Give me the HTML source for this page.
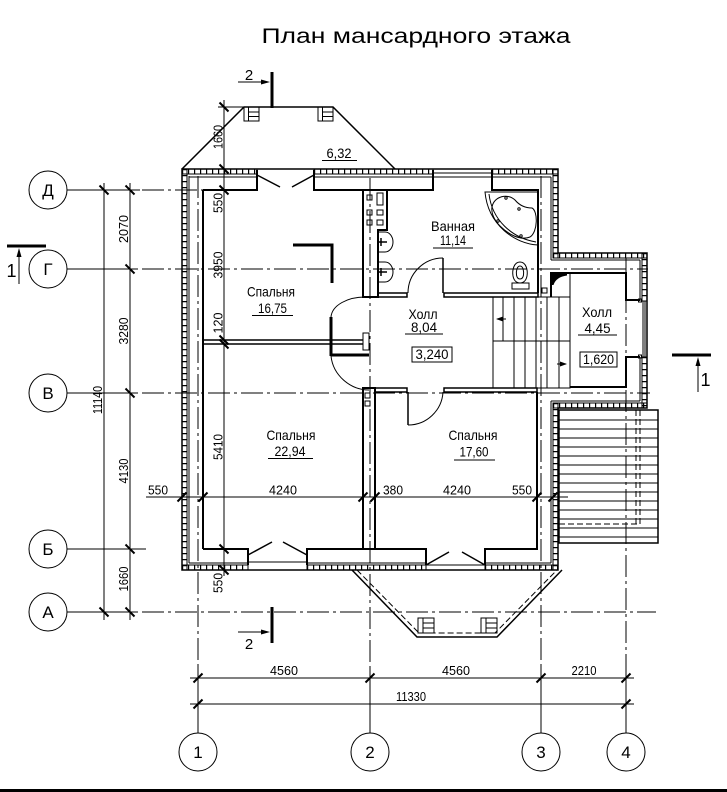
<!DOCTYPE html>
<html><head><meta charset="utf-8"><style>
html,body{margin:0;padding:0;background:#fff}
svg{display:block}
text{font-family:"Liberation Sans","DejaVu Sans",sans-serif;fill:#000}
.t{stroke:#000;stroke-width:1;fill:none}
.m{stroke:#000;stroke-width:1.5;fill:none}
.w{stroke:#000;stroke-width:2;fill:none}
.k{stroke:#000;stroke-width:3;fill:none}
.ax{stroke:#000;stroke-width:1;fill:none;stroke-dasharray:22 4 3 4}
.ds{stroke:#000;stroke-width:1;fill:none;stroke-dasharray:6 3}
.tk{stroke:#000;stroke-width:2}
.hv{stroke:#000;stroke-width:5;stroke-dasharray:1.2 4.8;fill:none}
</style></head><body>
<svg width="727" height="792" viewBox="0 0 727 792" xmlns="http://www.w3.org/2000/svg">
<rect width="727" height="792" fill="#fff"/>

<!-- Title -->
<text x="416" y="43" font-size="21" text-anchor="middle" textLength="309" lengthAdjust="spacingAndGlyphs">План мансардного этажа</text>

<!-- Axis circles -->
<g class="t">
<circle cx="48" cy="190" r="19"/><circle cx="48" cy="269" r="19"/><circle cx="48" cy="393" r="19"/><circle cx="48" cy="549" r="19"/><circle cx="48" cy="612" r="19"/>
<circle cx="198" cy="752" r="19"/><circle cx="370" cy="752" r="19"/><circle cx="541" cy="752" r="19"/><circle cx="626" cy="752" r="19"/>
</g>
<g font-size="17" text-anchor="middle">
<text x="48" y="196">Д</text><text x="48" y="275">Г</text><text x="48" y="399">В</text><text x="48" y="555">Б</text><text x="48" y="618">А</text>
<text x="198" y="758">1</text><text x="370" y="758">2</text><text x="541" y="758">3</text><text x="626" y="758">4</text>
</g>

<!-- Horizontal axis lines -->
<g class="t">
<line x1="67" y1="190" x2="140" y2="190"/>
<line x1="67" y1="269" x2="138" y2="269"/>
<line x1="67" y1="393" x2="138" y2="393"/>
<line x1="67" y1="549" x2="146" y2="549"/>
<line x1="67" y1="612" x2="138" y2="612"/>
</g>
<g class="ax">
<line x1="142" y1="190" x2="203" y2="190"/>
<line x1="142" y1="269" x2="648" y2="269"/>
<line x1="142" y1="393" x2="650" y2="393"/>
<line x1="142" y1="612" x2="656" y2="612"/>
</g>

<!-- Vertical axis lines -->
<g class="ax">
<line x1="198" y1="176" x2="198" y2="666"/>
<line x1="370" y1="178" x2="370" y2="666"/>
<line x1="541" y1="176" x2="541" y2="666"/>
<line x1="626" y1="258" x2="626" y2="666"/>
</g>
<g class="t">
<line x1="198" y1="666" x2="198" y2="733"/>
<line x1="370" y1="666" x2="370" y2="733"/>
<line x1="541" y1="666" x2="541" y2="733"/>
<line x1="626" y1="666" x2="626" y2="733"/>
</g>

<!-- Dimension lines -->
<g class="t">
<line x1="104" y1="183" x2="104" y2="620"/>
<line x1="130" y1="183" x2="130" y2="620"/>
<line x1="224" y1="100" x2="224" y2="576"/>
<line x1="218" y1="107" x2="244" y2="107"/>
<line x1="146" y1="497" x2="568" y2="497"/>
<line x1="190" y1="678" x2="634" y2="678"/>
<line x1="190" y1="704" x2="634" y2="704"/>
</g>
<g class="tk">
<!-- vertical dims: "\" ticks -->
<line x1="99.5" y1="185.5" x2="108.5" y2="194.5"/>
<line x1="99.5" y1="607.5" x2="108.5" y2="616.5"/>
<line x1="125.5" y1="185.5" x2="134.5" y2="194.5"/>
<line x1="125.5" y1="264.5" x2="134.5" y2="273.5"/>
<line x1="125.5" y1="388.5" x2="134.5" y2="397.5"/>
<line x1="125.5" y1="544.5" x2="134.5" y2="553.5"/>
<line x1="125.5" y1="607.5" x2="134.5" y2="616.5"/>
<line x1="219.5" y1="102.5" x2="228.5" y2="111.5"/>
<line x1="219.5" y1="164.5" x2="228.5" y2="173.5"/>
<line x1="219.5" y1="185.5" x2="228.5" y2="194.5"/>
<line x1="219.5" y1="335.5" x2="228.5" y2="344.5"/>
<line x1="219.5" y1="339.5" x2="228.5" y2="348.5"/>
<line x1="219.5" y1="544.5" x2="228.5" y2="553.5"/>
<line x1="219.5" y1="565.5" x2="228.5" y2="574.5"/>
<!-- horizontal dims: "/" ticks -->
<line x1="177.5" y1="501.5" x2="186.5" y2="492.5"/>
<line x1="198.5" y1="501.5" x2="207.5" y2="492.5"/>
<line x1="358.5" y1="501.5" x2="367.5" y2="492.5"/>
<line x1="370.5" y1="501.5" x2="379.5" y2="492.5"/>
<line x1="532.5" y1="501.5" x2="541.5" y2="492.5"/>
<line x1="548.5" y1="501.5" x2="557.5" y2="492.5"/>
<line x1="193.5" y1="682.5" x2="202.5" y2="673.5"/>
<line x1="365.5" y1="682.5" x2="374.5" y2="673.5"/>
<line x1="536.5" y1="682.5" x2="545.5" y2="673.5"/>
<line x1="621.5" y1="682.5" x2="630.5" y2="673.5"/>
<line x1="193.5" y1="708.5" x2="202.5" y2="699.5"/>
<line x1="621.5" y1="708.5" x2="630.5" y2="699.5"/>
</g>

<!-- Dimension texts -->
<g font-size="13" text-anchor="middle">
<text transform="translate(128,229) rotate(-90)" textLength="28" lengthAdjust="spacingAndGlyphs">2070</text>
<text transform="translate(128,331) rotate(-90)" textLength="27" lengthAdjust="spacingAndGlyphs">3280</text>
<text transform="translate(128,471) rotate(-90)" textLength="25" lengthAdjust="spacingAndGlyphs">4130</text>
<text transform="translate(128,579) rotate(-90)" textLength="25" lengthAdjust="spacingAndGlyphs">1660</text>
<text transform="translate(102,400) rotate(-90)" textLength="28" lengthAdjust="spacingAndGlyphs">11140</text>
<text transform="translate(222.5,137) rotate(-90)" textLength="24" lengthAdjust="spacingAndGlyphs">1660</text>
<text transform="translate(222.5,203) rotate(-90)" textLength="20" lengthAdjust="spacingAndGlyphs">550</text>
<text transform="translate(222.5,265) rotate(-90)" textLength="27" lengthAdjust="spacingAndGlyphs">3950</text>
<text transform="translate(222.5,323) rotate(-90)" textLength="21" lengthAdjust="spacingAndGlyphs">120</text>
<text transform="translate(222.5,447) rotate(-90)" textLength="26" lengthAdjust="spacingAndGlyphs">5410</text>
<text transform="translate(222.5,583) rotate(-90)" textLength="20" lengthAdjust="spacingAndGlyphs">550</text>
<text x="158" y="494.5" textLength="20" lengthAdjust="spacingAndGlyphs">550</text>
<text x="283" y="494.5" textLength="28" lengthAdjust="spacingAndGlyphs">4240</text>
<text x="393" y="494.5" textLength="20" lengthAdjust="spacingAndGlyphs">380</text>
<text x="457" y="494.5" textLength="28" lengthAdjust="spacingAndGlyphs">4240</text>
<text x="522" y="494.5" textLength="20" lengthAdjust="spacingAndGlyphs">550</text>
<text x="284" y="675" textLength="28" lengthAdjust="spacingAndGlyphs">4560</text>
<text x="456" y="675" textLength="28" lengthAdjust="spacingAndGlyphs">4560</text>
<text x="584" y="675" textLength="25" lengthAdjust="spacingAndGlyphs">2210</text>
<text x="411" y="701" textLength="30" lengthAdjust="spacingAndGlyphs">11330</text>
</g>

<!-- Top bay -->
<path class="m" d="M182,169 L244,107 L333,107 L395,169"/>
<g class="t">
<rect x="244" y="107" width="15" height="14"/><line x1="248.5" y1="107" x2="248.5" y2="121"/><line x1="248.5" y1="112" x2="259" y2="112"/><line x1="248.5" y1="116.5" x2="259" y2="116.5"/>
<rect x="318" y="107" width="15" height="14"/><line x1="322.5" y1="107" x2="322.5" y2="121"/><line x1="322.5" y1="112" x2="333" y2="112"/><line x1="322.5" y1="116.5" x2="333" y2="116.5"/>
</g>

<!-- Hatch strips -->
<g>
<rect class="t" x="182" y="169" width="75" height="5"/><line class="hv" x1="182" y1="171.5" x2="257" y2="171.5"/>
<rect class="t" x="314" y="169" width="119" height="5"/><line class="hv" x1="314" y1="171.5" x2="433" y2="171.5"/>
<rect class="t" x="492" y="169" width="66" height="5"/><line class="hv" x1="492" y1="171.5" x2="558" y2="171.5"/>
<rect class="t" x="182" y="169" width="5" height="401"/><line class="hv" x1="184.5" y1="169" x2="184.5" y2="570"/>
<rect class="t" x="182" y="565" width="66" height="5"/><line class="hv" x1="182" y1="567.5" x2="248" y2="567.5"/>
<rect class="t" x="307" y="565" width="119" height="5"/><line class="hv" x1="307" y1="567.5" x2="426" y2="567.5"/>
<rect class="t" x="485" y="565" width="73" height="5"/><line class="hv" x1="485" y1="567.5" x2="558" y2="567.5"/>
<rect class="t" x="553" y="169" width="5" height="89"/><line class="hv" x1="555.5" y1="169" x2="555.5" y2="258"/>
<rect class="t" x="553" y="253" width="94" height="5"/><line class="hv" x1="553" y1="255.5" x2="647" y2="255.5"/>
<rect class="t" x="642" y="253" width="5" height="48"/><line class="hv" x1="644.5" y1="253" x2="644.5" y2="301"/>
<rect class="t" x="642" y="357" width="5" height="51"/><line class="hv" x1="644.5" y1="357" x2="644.5" y2="408"/>
<rect class="t" x="553" y="403" width="94" height="5"/><line class="hv" x1="553" y1="405.5" x2="647" y2="405.5"/>
<rect class="t" x="553" y="403" width="5" height="167"/><line class="hv" x1="555.5" y1="403" x2="555.5" y2="570"/>
</g>

<!-- Outer outline -->
<path class="m" d="M182,169 H558 V253 H647 V408 H558 V570 H182 Z"/>

<!-- inner thin lines -->
<g class="t">
<line x1="189" y1="176" x2="189" y2="563"/>
<line x1="189" y1="177" x2="257" y2="177"/>
<line x1="314" y1="177" x2="433" y2="177"/>
<line x1="492" y1="177" x2="551" y2="177"/>
<line x1="433" y1="173" x2="492" y2="173"/>
<line x1="433" y1="177" x2="492" y2="177"/>
<line x1="551" y1="177" x2="551" y2="260"/>
<line x1="551" y1="260" x2="640" y2="260"/>
<line x1="640" y1="260" x2="640" y2="301"/>
<line x1="640" y1="357" x2="640" y2="401"/>
<line x1="551" y1="401" x2="640" y2="401"/>
<line x1="551" y1="401" x2="551" y2="563"/>
<line x1="189" y1="563" x2="248" y2="563"/>
<line x1="248" y1="562" x2="307" y2="562"/>
<line x1="307" y1="563" x2="426" y2="563"/>
<line x1="426" y1="565" x2="485" y2="565"/>
<line x1="485" y1="563" x2="551" y2="563"/>
<line x1="643" y1="301" x2="643" y2="357"/>
<line x1="645" y1="301" x2="645" y2="357"/>
<rect x="638.5" y="299" width="3" height="3"/>
<rect x="638.5" y="355" width="3" height="3"/>
</g>

<!-- Room faces -->
<g class="w">
<line x1="203" y1="190" x2="203" y2="549"/>
<path d="M203,190 H257 V170"/>
<path d="M314,170 V190 H433 V170"/>
<path d="M492,170 V190 H538 V293"/>
<path d="M203,549 H248 V565"/>
<path d="M307,565 V549 H426 V565"/>
<path d="M485,565 V549 H537 V392"/>
<path d="M551,297 V273 H626 V300 H640"/>
<path d="M640,357 H626 V387 H570"/>
<path d="M363,190 V297 H378 V230 H387 V190"/>
<path d="M363,549 V388 H375 V549"/>
</g>
<g class="m">
<rect x="378" y="293" width="29" height="4"/>
<rect x="444" y="293" width="94" height="4"/>
<rect x="375" y="388" width="32" height="4"/>
<rect x="444" y="388" width="93" height="4"/>
<line x1="203" y1="340" x2="363" y2="340"/>
<line x1="203" y1="344" x2="363" y2="344"/>
</g>
<g class="t">
<rect x="363" y="333" width="6" height="17"/>
<line x1="570" y1="273" x2="570" y2="388"/>
<!-- vents -->
<rect x="367" y="195" width="5" height="5"/><rect x="377" y="193" width="6" height="12"/>
<rect x="367" y="210" width="5" height="5"/><rect x="377" y="210" width="6" height="5"/>
<rect x="367" y="220" width="5" height="5"/><rect x="377" y="220" width="6" height="5"/>
<rect x="365" y="393" width="5" height="5"/><rect x="365" y="401" width="5" height="5"/>
<!-- sinks -->
<path d="M378,232 H385 A8,10 0 0 1 385,252 H378"/>
<path d="M378,262 H385 A8,10 0 0 1 385,282 H378"/>
</g>
<g class="m">
<line x1="379" y1="242" x2="387" y2="242"/><line x1="381" y1="238" x2="381" y2="246"/>
<line x1="379" y1="272" x2="387" y2="272"/><line x1="381" y1="268" x2="381" y2="276"/>
</g>

<!-- Doors -->
<g class="m">
<line x1="257" y1="175" x2="280" y2="187"/>
<line x1="292" y1="187" x2="314" y2="175"/>
<line x1="248" y1="555" x2="272" y2="542"/>
<line x1="283" y1="542" x2="307" y2="555"/>
<line x1="426" y1="565" x2="449" y2="552"/>
<line x1="462" y1="552" x2="485" y2="565"/>
<line x1="443" y1="258" x2="443" y2="293"/>
<line x1="408" y1="392" x2="408" y2="425"/>
</g>
<g class="t">
<path d="M443,258 A35,35 0 0 0 408,293"/>
<path d="M408,425 A35,35 0 0 0 443,392"/>
<path d="M331,317 C332,305 348,297 365,297"/>
<path d="M331,356 C333,375 350,390 369,390"/>
</g>
<g class="k">
<line x1="331" y1="317" x2="331" y2="356"/>
<line x1="331" y1="355" x2="369" y2="355"/>
<polyline points="293,245 332,245 332,283"/>
</g>

<!-- Stairs -->
<g class="t">
<rect x="493" y="297" width="77" height="91"/>
<line x1="493" y1="341" x2="570" y2="341"/>
<line x1="503" y1="297" x2="503" y2="341"/>
<line x1="514" y1="297" x2="514" y2="388"/>
<line x1="525" y1="297" x2="525" y2="388"/>
<line x1="536" y1="297" x2="536" y2="388"/>
<line x1="547" y1="297" x2="547" y2="388"/>
<line x1="559" y1="297" x2="559" y2="388"/>
<line x1="497" y1="319" x2="506" y2="319"/>
<line x1="557" y1="364" x2="566" y2="364"/>
<rect x="542" y="288" width="5" height="5"/>
</g>
<polygon points="496,319 503,316.5 503,321.5" fill="#000"/>
<polygon points="567,364 560,361.5 560,366.5" fill="#000"/>
<path d="M551,273 L567,273 L567,275.5 Q556,277 553.5,285 L551,285 Z" fill="#000"/>

<!-- Bathtub -->
<g class="t">
<path d="M485,192 H538 V245 C515,244 488,225 485,192 Z"/>
<path d="M489,194 C492,220 512,238 536,242"/>
<path d="M492,207 C494,196 508,193 515,200 C520,206 526,208 532,208 C538,211 538,232 530,237 C520,241 508,234 500,226 C494,220 491,213 492,207 Z"/>
<circle cx="506" cy="198" r="1.2"/><circle cx="519" cy="209" r="1.2"/><circle cx="498" cy="221" r="1.2"/><circle cx="521" cy="236" r="1.2"/>
<!-- toilet -->
<path d="M520,262 C526,262 528,270 527,276 C526,281 523,283 520,283 C517,283 514,281 513,276 C512,270 514,262 520,262 Z"/>
<path d="M520,266 C523,266 524,271 523.5,275 C523,278 521.5,279 520,279 C518.5,279 517,278 516.5,275 C516,271 517,266 520,266 Z"/>
<rect x="512" y="283" width="17" height="6"/>
</g>

<!-- Bottom bay -->
<path class="m" d="M352,570 L417,637 H497 L562,570"/>
<path class="ds" d="M357,570 L419,633 H495 L557,570"/>
<g class="t">
<rect x="418" y="618" width="16" height="15"/><line x1="423" y1="618" x2="423" y2="633"/><line x1="423" y1="623" x2="434" y2="623"/><line x1="423" y1="628" x2="434" y2="628"/>
<rect x="481" y="618" width="16" height="15"/><line x1="486" y1="618" x2="486" y2="633"/><line x1="486" y1="623" x2="497" y2="623"/><line x1="486" y1="628" x2="497" y2="628"/>
</g>

<!-- Terrace -->
<rect class="m" x="559" y="410" width="99" height="133"/>
<g class="t">
<line x1="559" y1="420" x2="658" y2="420"/><line x1="559" y1="429" x2="658" y2="429"/>
<line x1="559" y1="438" x2="658" y2="438"/><line x1="559" y1="447" x2="658" y2="447"/>
<line x1="559" y1="456" x2="658" y2="456"/><line x1="559" y1="465" x2="658" y2="465"/>
<line x1="559" y1="474" x2="658" y2="474"/><line x1="559" y1="483" x2="658" y2="483"/>
<line x1="559" y1="492" x2="658" y2="492"/><line x1="559" y1="501" x2="658" y2="501"/>
<line x1="559" y1="510" x2="658" y2="510"/><line x1="559" y1="519" x2="658" y2="519"/>
<line x1="559" y1="528" x2="658" y2="528"/><line x1="559" y1="537" x2="658" y2="537"/>
</g>
<g class="ds">
<line x1="636" y1="410" x2="636" y2="524"/>
<line x1="640" y1="410" x2="640" y2="524"/>
<line x1="559" y1="524" x2="640" y2="524"/>
</g>

<!-- Room labels -->
<g font-size="14" text-anchor="middle">
<text x="339" y="158" textLength="25" lengthAdjust="spacingAndGlyphs">6,32</text>
<text x="271" y="296.5" textLength="48" lengthAdjust="spacingAndGlyphs">Спальня</text>
<text x="272.5" y="313" textLength="29" lengthAdjust="spacingAndGlyphs">16,75</text>
<text x="453" y="231" textLength="44" lengthAdjust="spacingAndGlyphs">Ванная</text>
<text x="453" y="245" textLength="26" lengthAdjust="spacingAndGlyphs">11,14</text>
<text x="423" y="319" textLength="29" lengthAdjust="spacingAndGlyphs">Холл</text>
<text x="424" y="332" textLength="26" lengthAdjust="spacingAndGlyphs">8,04</text>
<text x="432" y="359" textLength="33" lengthAdjust="spacingAndGlyphs">3,240</text>
<text x="597" y="317" textLength="30" lengthAdjust="spacingAndGlyphs">Холл</text>
<text x="597.5" y="333" textLength="26" lengthAdjust="spacingAndGlyphs">4,45</text>
<text x="598.5" y="364" textLength="31" lengthAdjust="spacingAndGlyphs">1,620</text>
<text x="291" y="440" textLength="49" lengthAdjust="spacingAndGlyphs">Спальня</text>
<text x="290" y="456" textLength="31" lengthAdjust="spacingAndGlyphs">22,94</text>
<text x="473" y="440" textLength="49" lengthAdjust="spacingAndGlyphs">Спальня</text>
<text x="474" y="456.5" textLength="29" lengthAdjust="spacingAndGlyphs">17,60</text>
</g>
<g class="t">
<line x1="322" y1="160.5" x2="357" y2="160.5"/>
<line x1="252" y1="315.5" x2="293" y2="315.5"/>
<line x1="433" y1="248" x2="473" y2="248"/>
<line x1="405" y1="334" x2="443" y2="334"/>
<rect x="412" y="347" width="40" height="15"/>
<line x1="578" y1="335" x2="617" y2="335"/>
<rect x="580" y="352" width="37" height="15"/>
<line x1="268" y1="458.5" x2="313" y2="458.5"/>
<line x1="454" y1="460" x2="495" y2="460"/>
</g>

<!-- Section marks -->
<line class="k" x1="7" y1="246" x2="46" y2="246"/>
<line class="t" x1="19" y1="284" x2="19" y2="254"/>
<polygon points="19,248 16.5,257 21.5,257" fill="#000"/>
<text x="11.5" y="277" font-size="18" text-anchor="middle">1</text>

<line class="k" x1="672" y1="355" x2="711" y2="355"/>
<line class="t" x1="698" y1="392" x2="698" y2="362"/>
<polygon points="698,357 695.5,366 700.5,366" fill="#000"/>
<text x="705.5" y="386" font-size="18" text-anchor="middle">1</text>

<line class="k" x1="272" y1="72" x2="272" y2="108"/>
<line class="t" x1="238" y1="82" x2="264" y2="82"/>
<polygon points="270,82 261,79.5 261,84.5" fill="#000"/>
<text x="249" y="80" font-size="15" text-anchor="middle">2</text>

<line class="k" x1="272" y1="607" x2="272" y2="643"/>
<line class="t" x1="238" y1="632" x2="264" y2="632"/>
<polygon points="270,632 261,629.5 261,634.5" fill="#000"/>
<text x="249" y="649" font-size="15" text-anchor="middle">2</text>

<!-- bottom bar -->
<rect x="0" y="789" width="727" height="3" fill="#000"/>
</svg>
</body></html>
